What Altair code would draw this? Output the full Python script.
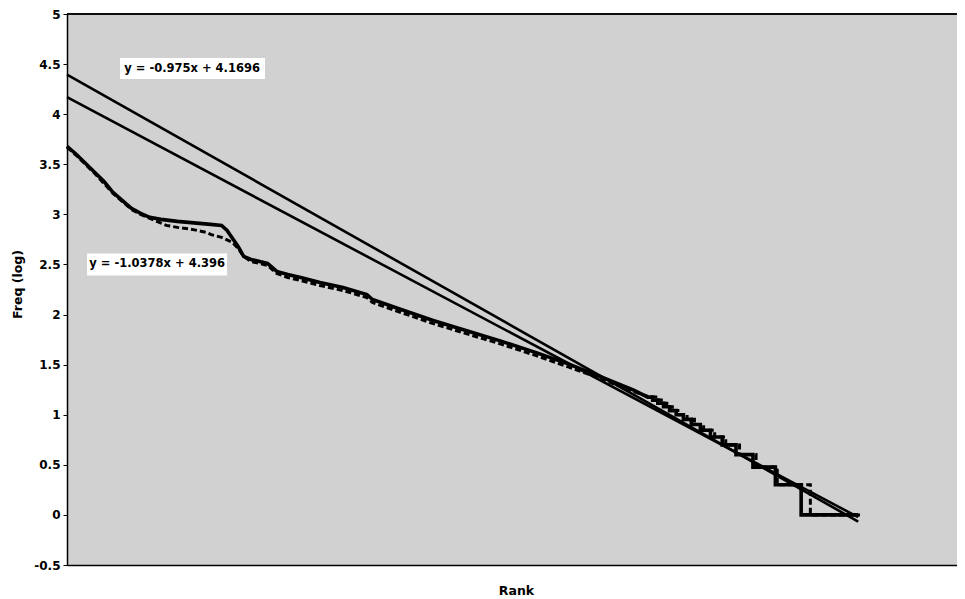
import altair as alt
import pandas as pd

# ---- data (x = log rank, y = log freq) ----
solid_x = [0.00, 0.05, 0.10, 0.15, 0.20, 0.25, 0.30, 0.35, 0.40, 0.45, 0.51, 0.60, 0.72, 0.78,
           0.84, 0.87, 0.90, 0.93, 0.96, 1.00, 1.09, 1.14, 1.20, 1.27, 1.375, 1.50, 1.63, 1.66,
           1.80, 1.99, 2.15, 2.35, 2.55, 2.72, 2.90, 3.08, 3.156,
           3.183, 3.183, 3.211, 3.211, 3.242, 3.242, 3.275, 3.275, 3.311, 3.311, 3.350,
           3.350, 3.393, 3.393, 3.442, 3.442, 3.497, 3.497, 3.561, 3.561, 3.636, 3.636,
           3.728, 3.728, 3.850, 3.850, 3.990, 3.990, 4.300]
solid_y = [3.68, 3.60, 3.51, 3.42, 3.33, 3.22, 3.14, 3.06, 3.01, 2.97, 2.95, 2.93, 2.91, 2.90,
           2.89, 2.84, 2.76, 2.68, 2.58, 2.55, 2.51, 2.43, 2.40, 2.37, 2.32, 2.27, 2.20, 2.15,
           2.06, 1.94, 1.85, 1.74, 1.62, 1.51, 1.38, 1.245, 1.176,
           1.176, 1.146, 1.146, 1.114, 1.114, 1.079, 1.079, 1.041, 1.041, 1.000, 1.000,
           0.954, 0.954, 0.903, 0.903, 0.845, 0.845, 0.778, 0.778, 0.699, 0.699, 0.602,
           0.602, 0.477, 0.477, 0.301, 0.301, 0.000, 0.000]

dashed_x = [0.00, 0.05, 0.10, 0.15, 0.20, 0.25, 0.30, 0.35, 0.40, 0.45, 0.54, 0.60, 0.68, 0.76,
            0.78, 0.84, 0.90, 0.93, 0.96, 1.00, 1.09, 1.14, 1.20, 1.27, 1.375, 1.50, 1.63, 1.66,
            1.80, 1.99, 2.15, 2.35, 2.55, 2.72, 2.90, 3.08, 3.170,
            3.200, 3.200, 3.230, 3.230, 3.260, 3.260, 3.290, 3.290, 3.330, 3.330, 3.370,
            3.370, 3.410, 3.410, 3.460, 3.460, 3.520, 3.520, 3.580, 3.580, 3.655, 3.655,
            3.745, 3.745, 3.860, 3.860, 4.040, 4.040, 4.310]
dashed_y = [3.67, 3.59, 3.50, 3.41, 3.31, 3.21, 3.13, 3.05, 3.00, 2.96, 2.89, 2.87, 2.85, 2.82,
            2.80, 2.77, 2.72, 2.66, 2.58, 2.53, 2.49, 2.41, 2.37, 2.34, 2.29, 2.24, 2.17, 2.12,
            2.03, 1.91, 1.82, 1.71, 1.59, 1.48, 1.36, 1.23, 1.176,
            1.176, 1.146, 1.146, 1.114, 1.114, 1.079, 1.079, 1.041, 1.041, 1.000, 1.000,
            0.954, 0.954, 0.903, 0.903, 0.845, 0.845, 0.778, 0.778, 0.699, 0.699, 0.602,
            0.602, 0.477, 0.477, 0.301, 0.301, 0.000, 0.000]

trend_slopes = [-1.0378, -0.975]
trend_intercepts = [4.396, 4.1696]
trend_x_range = [0.0, 4.30]

label_texts = ["y = -0.975x + 4.1696", "y = -1.0378x + 4.396"]
label_x = [0.68, 0.49]
label_y = [4.455, 2.50]
box_x1 = [0.288, 0.109]
box_x2 = [1.076, 0.870]
box_y1 = [4.35, 2.39]
box_y2 = [4.56, 2.61]

y_ticks = [-0.5, 0, 0.5, 1, 1.5, 2, 2.5, 3, 3.5, 4, 4.5, 5]
X_MAX = 4.837

# ---- tables ----
rows = []
for i, (x, y) in enumerate(zip(solid_x, solid_y)):
    rows.append({"series": "solid", "x": x, "y": y, "i": i})
for i, (x, y) in enumerate(zip(dashed_x, dashed_y)):
    rows.append({"series": "dashed", "x": x, "y": y, "i": i})
curves = pd.DataFrame(rows)

trows = []
for k, (m, b) in enumerate(zip(trend_slopes, trend_intercepts)):
    for x in trend_x_range:
        trows.append({"trend": f"t{k}", "x": x, "y": m * x + b})
trends = pd.DataFrame(trows)

labels = pd.DataFrame({"text": label_texts, "x": label_x, "y": label_y,
                       "x1": box_x1, "x2": box_x2, "y1": box_y1, "y2": box_y2})

xs = alt.Scale(domain=[0, X_MAX], nice=False, zero=False)
ys = alt.Scale(domain=[-0.5, 5], nice=False, zero=False)

FONT = "DejaVu Sans"

x_axis = alt.Axis(labels=False, ticks=False, grid=False, domainColor="black", domainWidth=1.5,
                  title="Rank", titleFont=FONT, titleFontSize=12.5, titleFontWeight="bold",
                  titleColor="black", titleX=449, titleY=25, titleBaseline="middle")
y_axis = alt.Axis(values=y_ticks, labelExpr="'' + datum.value", grid=False,
                  domainColor="black", domainWidth=1.5, tickColor="black", tickSize=4,
                  labelFont=FONT, labelFontSize=12, labelFontWeight="bold", labelColor="black",
                  labelPadding=3, title="Freq (log)", titleFont=FONT, titleFontSize=12.5,
                  titleFontWeight="bold", titleColor="black", titleX=-50, titleY=270,
                  titleAngle=270, titleAlign="center", titleBaseline="middle")

base_curve = alt.Chart(curves)
solid = base_curve.transform_filter(alt.datum.series == "solid").mark_line(
    color="black", strokeWidth=3.6).encode(
    x=alt.X("x:Q", scale=xs, axis=x_axis),
    y=alt.Y("y:Q", scale=ys, axis=y_axis),
    order="i:Q")
dashed = base_curve.transform_filter(alt.datum.series == "dashed").mark_line(
    color="black", strokeWidth=3, strokeDash=[6, 3]).encode(
    x=alt.X("x:Q", scale=xs), y=alt.Y("y:Q", scale=ys), order="i:Q")

trend = alt.Chart(trends).mark_line(color="black", strokeWidth=2.6).encode(
    x=alt.X("x:Q", scale=xs), y=alt.Y("y:Q", scale=ys), detail="trend:N")

top_rule = alt.Chart(labels).mark_rule(color="black", strokeWidth=1.5).encode(
    y=alt.datum(5))

boxes = alt.Chart(labels).mark_rect(color="white").encode(
    x=alt.X("x1:Q", scale=xs), x2="x2:Q", y=alt.Y("y1:Q", scale=ys), y2="y2:Q")
texts = alt.Chart(labels).mark_text(font=FONT, fontSize=11.5, fontWeight="bold",
                                    color="black", align="center", baseline="middle").encode(
    x=alt.X("x:Q", scale=xs), y=alt.Y("y:Q", scale=ys), text="text:N")

chart = alt.layer(trend, dashed, solid, top_rule, boxes, texts).properties(
    width=890, height=551,
    autosize=alt.AutoSizeParams(type="none"),
    padding={"left": 59, "top": 6, "right": 0, "bottom": 34},
    background="white",
).configure_view(fill="#d1d1d1", strokeWidth=0)

chart.save("out.html", embed_options={"renderer": "svg", "actions": False})
